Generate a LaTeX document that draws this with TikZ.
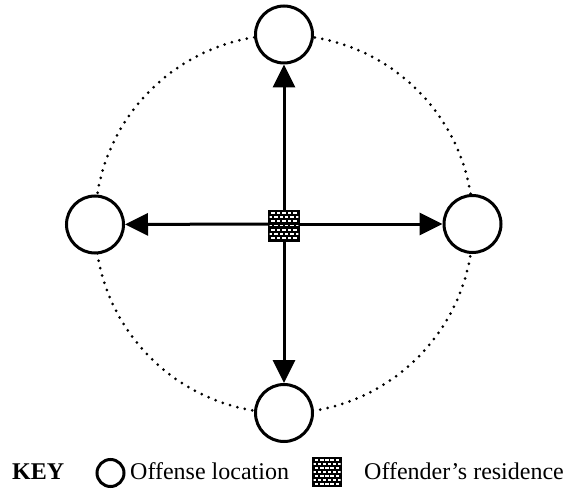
\documentclass[tikz,border=0pt]{standalone}
\usepackage{fontspec}
\setmainfont{Liberation Serif}
\usetikzlibrary{arrows.meta}
\begin{document}
\begin{tikzpicture}[x=1pt,y=-1pt,
  loc/.style={circle,draw=black,fill=white,line width=3pt,minimum size=#1,inner sep=0pt},
  bricksq/.style={rectangle,fill=black,minimum size=#1,inner sep=0pt,
    path picture={
      \pgfmathsetmacro\lim{0.45*#1}
      \clip ([shift={(-\lim pt,-\lim pt)}]path picture bounding box.center) rectangle ([shift={(\lim pt,\lim pt)}]path picture bounding box.center);
      \foreach \r in {0,...,6}{
        \foreach \c in {-3,...,3}{
          \pgfmathsetmacro\yy{((\r-3)*0.13-0.03)*#1}
          \pgfmathsetmacro\xx{((\c+0.5*mod(\r,2))*0.17-0.055)*#1}
          \pgfmathsetmacro\ww{0.11*#1}
          \pgfmathsetmacro\hh{0.06*#1}
          \fill[white] ([shift={(\xx pt,\yy pt)}]path picture bounding box.center) rectangle ++(\ww pt,\hh pt);
        }
      }
    }},
  arr/.style={line width=3pt,-{Triangle[length=23pt,width=22pt]}},
  dotring/.style={line width=3pt,line cap=round,dash pattern=on 0pt off 7.6pt},
  txt/.style={anchor=base west,inner sep=0pt,font=\fontsize{24}{28}\selectfont}
]
\useasboundingbox (0,0) rectangle (567,489);
\coordinate (c) at (284,224);
\draw[dotring] (c) circle[radius=189pt];
\node[loc=57pt] (top) at (284,34.5) {};
\node[loc=57pt] (left) at (95,224.5) {};
\node[loc=57pt] (right) at (472.5,224) {};
\node[loc=57pt] (bot) at (284,413) {};
\draw[arr] (c) -- (top);
\draw[arr] (c) -- (left);
\draw[arr] (c) -- (right);
\draw[arr] (c) -- (bot);
\node[bricksq=32pt] (res) at (284,225.5) {};
% key
\node[txt,font=\fontsize{24}{28}\selectfont\bfseries] (key) at (12,479) {KEY};
\node[loc=27pt] (kloc) at (110.5,473) {};
\node[txt] (kloctxt) at (130,479) {Offense location};
\node[bricksq=30pt] (kres) at (327,472) {};
\node[txt] (krestxt) at (364,479) {Offender’s residence};
\end{tikzpicture}
\end{document}
